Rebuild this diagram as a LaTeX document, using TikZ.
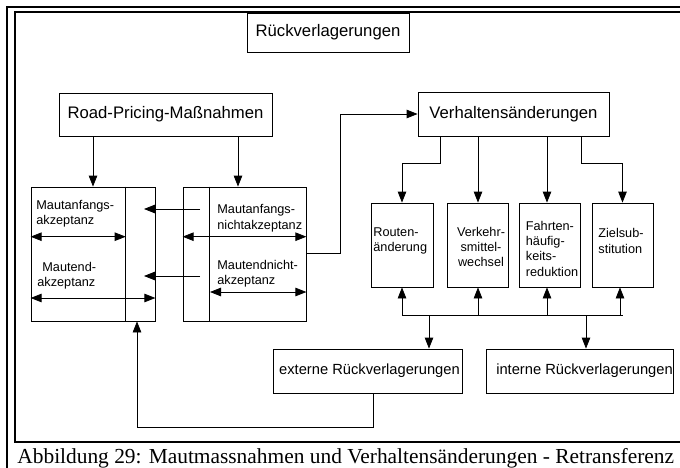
\documentclass[tikz,border=0pt]{standalone}
\usepackage{fontspec}
\setmainfont{Liberation Sans}
\newfontfamily\capfont{Liberation Serif}
\usetikzlibrary{arrows.meta}
% stacked lines, baseline at the first line
\newcommand\stk[2][l]{\begin{tabular}[t]{@{}#1@{}}#2\end{tabular}}

\begin{document}
\begin{tikzpicture}[x=1pt,y=-1pt,line width=0.8pt,
  box/.style={draw,inner sep=0pt,fill=white},
  big/.style={font=\fontsize{16.7}{20}\selectfont},
  mid/.style={font=\fontsize{14.7}{18}\selectfont},
  small/.style={font=\fontsize{12.7}{15.4}\selectfont},
  lbl/.style={small,inner sep=0pt,anchor=base west},
  clbl/.style={small,inner sep=0pt,anchor=base},
  tip/.tip={Triangle[length=11pt,width=8.5pt]},
  arr/.style={-tip},
  dbl/.style={tip-tip}]

\useasboundingbox (0,0) rectangle (680,468);
\fill[white] (0,0) rectangle (680,468);
\clip (0,0) rectangle (680,468);

% double frame
\draw[line width=2pt] (7,480) -- (7,7) -- (700,7);
\draw[line width=2pt] (700,12.5) -- (15,12.5) -- (15,442) -- (700,442);

% title
\node[box,big,minimum width=162pt,minimum height=39pt] (rv) at (328,32.5) {Rückverlagerungen};

% main boxes
\node[box,big,minimum width=213pt,minimum height=43pt] (rp) at (165.5,114.5) {Road-Pricing-Maßnahmen};
\node[box,big,minimum width=191pt,minimum height=44pt] (vh) at (513.5,114) {Verhaltensänderungen};

% acceptance boxes with inner column
\node[box,minimum width=124pt,minimum height=134pt] (acc) at (93,254) {};
\node[box,minimum width=123pt,minimum height=134pt] (nacc) at (244.5,254) {};
\draw ([xshift=95pt]acc.north west) -- ([xshift=95pt]acc.south west);
\draw ([xshift=27pt]nacc.north west) -- ([xshift=27pt]nacc.south west);

\node[lbl] (t1) at (36,209.3) {\stk{Mautanfangs-\\akzeptanz}};
\node[lbl] (t2) at (37,271) {\stk{\hspace*{5pt}Mautend-\\akzeptanz}};
\node[lbl] (t3) at (217,213.7) {\stk{Mautanfangs-\\nichtakzeptanz}};
\node[lbl] (t4) at (217,269.3) {\stk{Mautendnicht-\\akzeptanz}};

% behaviour boxes
\node[box,minimum width=62pt,minimum height=84pt] (rt) at (402,245) {};
\node[box,minimum width=61pt,minimum height=84pt] (vk) at (478,245) {};
\node[box,minimum width=61pt,minimum height=84pt] (fh) at (549.5,245) {};
\node[box,minimum width=61pt,minimum height=84pt] (zs) at (622.5,245) {};
\node[lbl] (t5) at (373,236) {\stk{Routen-\\änderung}};
\node[clbl] (t6) at (481,236) {\stk[c]{Verkehr-\\smittel-\\wechsel}};
\node[lbl] (t7) at (525.5,230) {\stk{Fahrten-\\häufig-\\keits-\\reduktion}};
\node[lbl] (t8) at (598,237.7) {\stk{Zielsub-\\stitution}};

% transfer boxes
\node[box,mid,minimum width=189pt,minimum height=44pt] (ext) at (367.5,371) {\hspace*{4pt}externe Rückverlagerungen};
\node[box,mid,minimum width=187pt,minimum height=44pt] (int) at (579.5,371) {\hspace*{10pt}interne Rückverlagerungen};

% measures to acceptance
\draw[arr] (rp.south -| acc.north) -- (acc.north);
\draw[arr] ([xshift=-6.5pt]rp.south -| nacc.north) -- ([xshift=-6.5pt]nacc.north);

% non-acceptance back to acceptance
\coordinate (s1) at (200,209);
\coordinate (e1) at (144,209);
\coordinate (s2) at (200,276);
\coordinate (e2) at (144,276);
\draw[arr] (s1) -- (e1);
\draw[arr] (s2) -- (e2);

% spans inside the acceptance boxes
\draw[dbl] ([yshift=17.3pt]acc.west) -- ([yshift=17.3pt]acc.west -| 125.7,0);
\draw[dbl] ([yshift=-44pt]acc.west) -- ([yshift=-44pt]acc.east);
\draw[dbl] ([yshift=17.3pt]nacc.west) -- ([yshift=17.3pt]nacc.east);
\draw[dbl] ([yshift=-38pt]nacc.west -| 210,0) -- ([yshift=-38pt]nacc.east);

% non-acceptance to behaviour changes
\draw[arr] ([yshift=1pt]nacc.east) -- ++(34,0) |- (vh.west);

% behaviour changes fan out
\draw[arr] ([xshift=-73.5pt]vh.south) -- ++(0,27) -| (rt.north);
\draw[arr] (vh.south -| vk.north) -- (vk.north);
\draw[arr] ([xshift=-2.5pt]vh.south -| fh.north) -- ([xshift=-2.5pt]fh.north);
\draw[arr] ([xshift=67.5pt]vh.south) -- ++(0,27) -| (zs.north);

% collecting bus
\coordinate (bus) at (500,315);
\draw (rt.south |- bus) -- (zs.south |- bus);
\draw[arr] (rt.south |- bus) -- (rt.south);
\draw[arr] (vk.south |- bus) -- (vk.south);
\draw[arr] ([xshift=-2.5pt]fh.south |- bus) -- ([xshift=-2.5pt]fh.south);
\draw[arr] ([xshift=-2.5pt]zs.south |- bus) -- ([xshift=-2.5pt]zs.south);
\coordinate (be) at (429,315);
\coordinate (bi) at (586,315);
\draw[arr] (be) -- (be |- ext.north);
\draw[arr] (bi) -- (bi |- int.north);

% external transfers feed back
\draw[arr] ([xshift=5.5pt]ext.south) -- ++(0,34) -| ([xshift=44pt]acc.south);

% caption
\node[inner sep=0pt,anchor=base west,font=\capfont\fontsize{21.4}{24}\selectfont] (cap) at (17,463)
  {Abbildung 29: Mautmassnahmen und Verhaltensänderungen - Retransferenz};
\end{tikzpicture}
\end{document}
